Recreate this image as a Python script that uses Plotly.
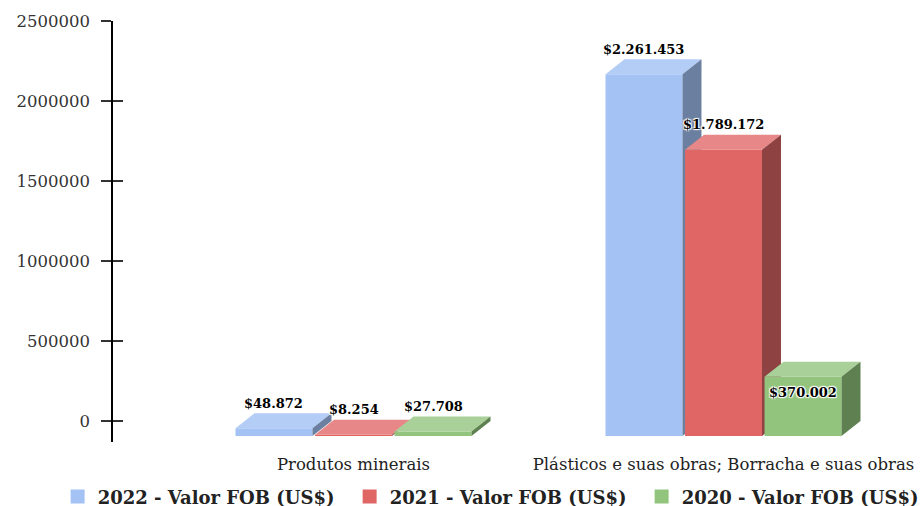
import plotly.graph_objects as go

# ---- data ----
categories = ["Produtos minerais", "Plásticos e suas obras; Borracha e suas obras"]
series_names = ["2022 - Valor FOB (US$)", "2021 - Valor FOB (US$)", "2020 - Valor FOB (US$)"]
values_2022 = [48872, 2261453]
values_2021 = [8254, 1789172]
values_2020 = [27708, 370002]
label_texts_2022 = ["$48.872", "$2.261.453"]
label_texts_2021 = ["$8.254", "$1.789.172"]
label_texts_2020 = ["$27.708", "$370.002"]
y_tick_vals = [0, 500000, 1000000, 1500000, 2000000, 2500000]
y_tick_text = ["0", "500000", "1000000", "1500000", "2000000", "2500000"]

# ---- style ----
front_colors = ["#a4c2f4", "#e06666", "#93c47d"]
top_colors = ["#b4cdf6", "#e88787", "#a8d098"]
side_colors = ["#6b7fa0", "#8e4242", "#5f8050"]
offsets = [-0.2149, 0.0, 0.2149]
bar_w = 0.208
PX_X = 370.0          # pixels per x unit
PX_Y = 160.0 / 1e6    # pixels per y unit
DX = 19 / PX_X        # depth offset (x units)
DY = 15 / PX_Y        # depth offset (y units)
label_shift = [[25, 25, 25], [25, 25, -16]]
FONT = "DejaVu Serif"
W, H = 922, 506
AXIS_LEFT = 113

series_vals = [values_2022, values_2021, values_2020]
series_labels = [label_texts_2022, label_texts_2021, label_texts_2020]
cat_x = list(range(len(categories)))

fig = go.Figure()

def poly(xs, ys, color):
    fig.add_trace(go.Scatter(x=xs + [xs[0]], y=ys + [ys[0]], fill="toself", mode="lines",
                             line=dict(width=0, color=color), fillcolor=color,
                             hoverinfo="skip", showlegend=False))

annotations = []
for s, vals in enumerate(series_vals):
    for c, v in zip(cat_x, vals):
        xc = c + offsets[s]
        x0, x1 = xc - bar_w / 2, xc + bar_w / 2
        y0, y1 = -DY, v - DY
        # front
        poly([x0, x1, x1, x0], [y0, y0, y1, y1], front_colors[s])
        # top
        poly([x0, x1, x1 + DX, x0 + DX], [y1, y1, v, v], top_colors[s])
        # side
        poly([x1, x1 + DX, x1 + DX, x1], [y0, 0, v, y1], side_colors[s])
        annotations.append(dict(
            x=xc, y=y1, xref="x", yref="y", text=series_labels[s][c], showarrow=False,
            yshift=label_shift[c][s], xanchor="center", yanchor="middle",
            font=dict(family=FONT, size=13, color="#000000", weight="bold",
                      shadow="1px 1px 1px #fff, -1px -1px 1px #fff, 1px -1px 1px #fff, -1px 1px 1px #fff")))

# legend-only bar traces
for s, name in enumerate(series_names):
    fig.add_trace(go.Bar(x=[None], y=[None], name=name,
                         marker=dict(color=front_colors[s], line=dict(width=4, color=front_colors[s])),
                         showlegend=True, hoverinfo="skip"))

y_range = [-131250, 2500000]
plot_w = W - AXIS_LEFT

fig.update_layout(
    width=W, height=H,
    margin=dict(l=0, r=0, t=21, b=64, autoexpand=False),
    paper_bgcolor="white", plot_bgcolor="white",
    barmode="overlay",
    showlegend=True,
    annotations=annotations,
    legend=dict(orientation="h", xref="container", yref="container", x=0.0625, y=0.018,
                xanchor="left", yanchor="middle", entrywidth=247,
                font=dict(family=FONT, size=18, color="#222222", weight="bold"),
                itemsizing="constant", tracegroupgap=0),
    xaxis=dict(domain=[AXIS_LEFT / W, 1], range=[-0.65, -0.65 + plot_w / PX_X],
               tickmode="array", tickvals=cat_x,
               ticktext=categories, showgrid=False, zeroline=False, showline=False,
               ticks="", ticklabelstandoff=10, automargin=False,
               tickfont=dict(family=FONT, size=16.5, color="#222222")),
    yaxis=dict(range=y_range, tickmode="array", tickvals=y_tick_vals, ticktext=y_tick_text,
               showgrid=False, zeroline=False, showline=True, linecolor="#000000", linewidth=1.5,
               ticks="outside", ticklen=10, tickcolor="#333333", tickwidth=1.5,
               ticklabelstandoff=8, automargin=False,
               tickfont=dict(family=FONT, size=16.5, color="#333333")),
    yaxis2=dict(range=y_range, overlaying="y", anchor="x", side="left", tickmode="array",
                tickvals=y_tick_vals, showticklabels=False, showgrid=False, zeroline=False,
                showline=False, ticks="inside", ticklen=10, tickcolor="#333333", tickwidth=1.5,
                automargin=False),
)
# dummy trace to activate yaxis2
fig.add_trace(go.Scatter(x=[None], y=[None], yaxis="y2", showlegend=False, hoverinfo="skip"))

fig.write_html("out.html", config={"displayModeBar": False},
               post_script="document.body.style.margin='0';")
